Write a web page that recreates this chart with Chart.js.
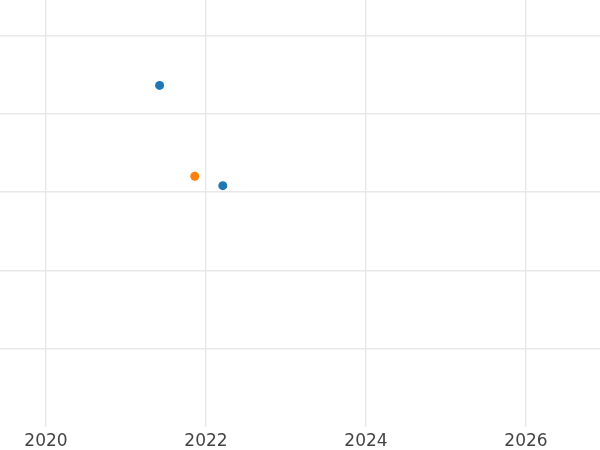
<!DOCTYPE html>
<html>
<head>
<meta charset="utf-8">
<script src="https://cdn.jsdelivr.net/npm/chart.js@4/dist/chart.umd.min.js"></script>
<style>
html,body{margin:0;padding:0;background:#fff;}
#wrap{width:600px;height:450px;position:relative;}
</style>
</head>
<body>
<div id="wrap"><canvas id="c"></canvas></div>
<script>
// Data
const seriesAYears = [2021.42, 2022.21];
const seriesAValues = [43.6, 30.8];
const seriesBYears = [2021.86];
const seriesBValues = [32.0];
const xTickLabels = [2020, 2022, 2024, 2026];
const yGridValues = [10, 20, 30, 40, 50];

const toPoints = (xs, ys) => xs.map((x, i) => ({x: x, y: ys[i]}));

new Chart(document.getElementById('c'), {
  type: 'scatter',
  data: {
    datasets: [
      {label: 'A', data: toPoints(seriesAYears, seriesAValues), backgroundColor: '#1f77b4', borderColor: '#1f77b4', pointRadius: 4.5, pointBorderWidth: 0},
      {label: 'B', data: toPoints(seriesBYears, seriesBValues), backgroundColor: '#ff7f0e', borderColor: '#ff7f0e', pointRadius: 4.5, pointBorderWidth: 0}
    ]
  },
  options: {
    responsive: true,
    maintainAspectRatio: false,
    animation: false,
    layout: {padding: 0, autoPadding: false},
    plugins: {legend: {display: false}, tooltip: {enabled: false}},
    scales: {
      x: {
        type: 'linear',
        min: 2019.425,
        max: 2026.925,
        afterBuildTicks: s => { s.ticks = xTickLabels.map(v => ({value: v})); },
        afterFit: s => { s.height = 23; },
        border: {display: false},
        grid: {color: '#e8e8e8', lineWidth: 1.4, drawTicks: false},
        ticks: {padding: 4, color: '#444', font: {family: 'DejaVu Sans', size: 17}, callback: v => String(v)}
      },
      y: {
        type: 'linear',
        min: 0,
        max: 54.5,
        afterBuildTicks: s => { s.ticks = yGridValues.map(v => ({value: v})); },
        border: {display: false},
        grid: {color: '#e8e8e8', lineWidth: 1.4, drawTicks: false},
        ticks: {display: false}
      }
    }
  }
});
</script>
</body>
</html>
